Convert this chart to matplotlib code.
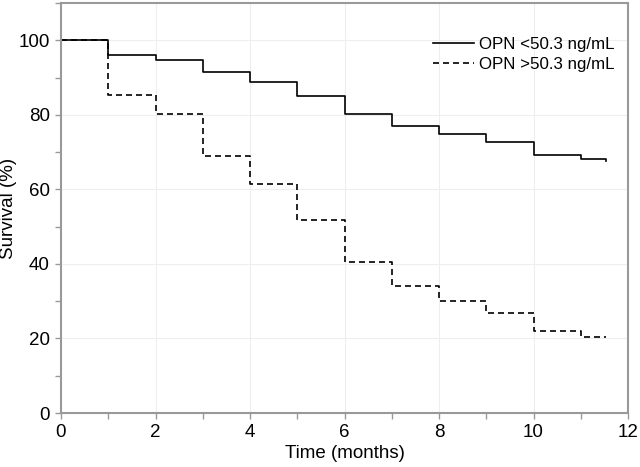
import matplotlib
matplotlib.use("Agg")
import matplotlib.pyplot as plt
from matplotlib.ticker import MultipleLocator

plt.rcParams['font.family'] = ['Liberation Sans', 'DejaVu Sans']

times = [0, 1, 2, 3, 4, 5, 6, 7, 8, 9, 10, 11, 11.53]
low_opn = [100, 96.0, 94.7, 91.4, 88.9, 85.1, 80.1, 77.0, 74.8, 72.8, 69.2, 68.2, 67.6]
high_opn = [100, 85.4, 80.3, 69.0, 61.4, 51.9, 40.4, 34.1, 30.0, 26.9, 21.9, 20.3, 20.3]
labels = ["OPN <50.3 ng/mL", "OPN >50.3 ng/mL"]

fig = plt.figure(figsize=(6.4, 4.67), dpi=100)
ax = fig.add_axes([61/640, (467-413)/467, (628-61)/640, (413-3)/467])

ax.step(times, low_opn, where='post', color='black', lw=1.2, label=labels[0])
ax.step(times, high_opn, where='post', color='black', lw=1.2, ls=(0, (3.6, 2.4)), label=labels[1])

ax.set_xlim(0, 12)
ax.set_ylim(0, 110)
ax.xaxis.set_major_locator(MultipleLocator(2))
ax.xaxis.set_minor_locator(MultipleLocator(1))
ax.yaxis.set_major_locator(MultipleLocator(20))
ax.yaxis.set_minor_locator(MultipleLocator(10))
ax.grid(True, which='major', color='#eeeeee', lw=0.8)
ax.set_axisbelow(True)
for s in ax.spines.values():
    s.set_color('#999999')
    s.set_linewidth(1.5)
ax.tick_params(which='both', direction='out', color='#999999', length=4, width=1, labelsize=13.5, pad=4)
ax.set_yticks([0, 20, 40, 60, 80, 100])
ax.set_xlabel("Time (months)", fontsize=13.5, labelpad=3)
ax.set_ylabel("Survival (%)", fontsize=13.5, labelpad=1)

leg = ax.legend(loc='upper right', frameon=False, fontsize=12.2, handlelength=2.4,
                handletextpad=0.35, labelspacing=0.3, borderpad=0, borderaxespad=0,
                bbox_to_anchor=(0.977, 0.918))

fig.savefig("out.png", dpi=100)
